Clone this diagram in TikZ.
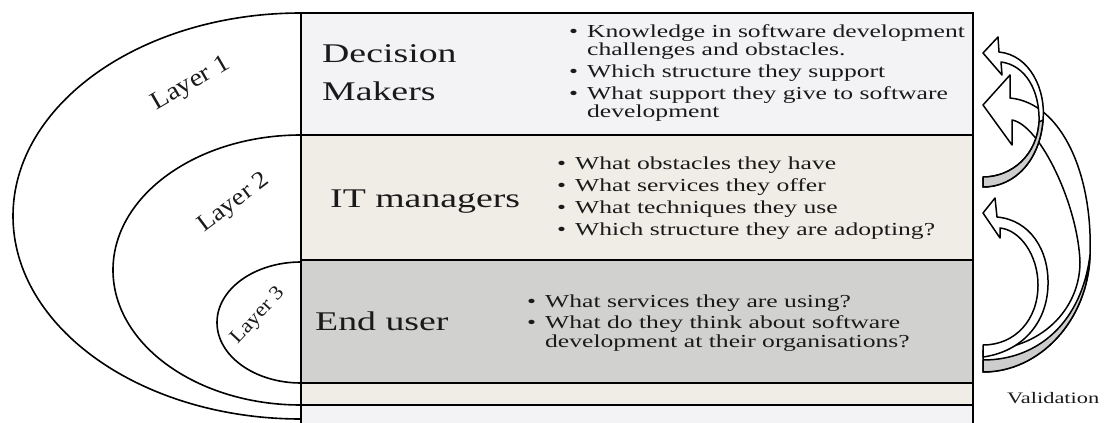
\documentclass[tikz,border=0pt]{standalone}
\usepackage{fontspec}
\setmainfont{Liberation Serif}[FakeStretch=1.4]
\newfontfamily\layfont{Liberation Serif}[FakeStretch=1.12]
\definecolor{rowA}{HTML}{F3F3F5}
\definecolor{rowB}{HTML}{EFEDE5}
\definecolor{rowC}{HTML}{D1D1CF}
\definecolor{txt}{HTML}{1A1A1A}
\definecolor{shade}{HTML}{CDCDCD}

\begin{document}
\begin{tikzpicture}[x=1pt, y=-1pt,
	ring/.style={line width=1.6pt},
	edge/.style={line width=1.8pt},
	face/.style={fill=white, draw=black, line width=1.5pt, line join=round},
	under/.style={fill=shade, draw=black, line width=1.5pt, line join=round},
	who/.style={anchor=base west, inner sep=0pt, text=txt, font=\fontsize{27}{30}\selectfont},
	pts/.style={anchor=base west, inner sep=0pt, text=txt, font=\fontsize{18.3}{18}\selectfont},
	lay/.style={inner sep=0pt, text=txt}]
	\useasboundingbox (0,0) rectangle (1106,423);
	
	% rows of the table
	\fill[rowA] (301,13) rectangle (973,135);
	\fill[rowB] (301,135) rectangle (973,260);
	\fill[rowC] (301,260) rectangle (973,383);
	\fill[rowB] (301,383) rectangle (973,405);
	\fill[rowA] (301,405) rectangle (973,430);
	\draw[edge] (301,13) rectangle (973,430);
	\foreach \y in {135,260,383,405}
		\draw[edge] (301,\y) -- (973,\y);
	\draw[line width=2.6pt] (301,13) -- (301,430);
	
	% layers
	\draw[ring] (301,13) arc[start angle=-90, end angle=-270, x radius=288, y radius=203];
	\draw[ring] (301,135) arc[start angle=-90, end angle=-270, x radius=188, y radius=135];
	\draw[ring] (301,262) arc[start angle=-90, end angle=-270, x radius=84, y radius=60.5];
	\node[lay, rotate=30, font=\layfont\fontsize{25}{25}\selectfont] (l1) at (191,84) {Layer 1};
	\node[lay, rotate=37, font=\layfont\fontsize{24}{24}\selectfont] (l2) at (234,203) {Layer 2};
	\node[lay, rotate=47, font=\layfont\fontsize{20}{20}\selectfont] (l3) at (258,316) {Layer 3};
	
	% who
	\node[who] (dec) at (322,62) {Decision};
	\node[who] (mak) at (322,100) {Makers};
	\node[who] (itm) at (330,207) {IT managers};
	\node[who] (end) at (315,330) {End user};
	
	% what they were asked
	\node[pts] (q1) at (569,37) {\begin{tabular}[t]{@{}l@{\hspace{9pt}}l@{}}
		\textbullet & Knowledge in software development\\
		& challenges and obstacles.\\[4pt]
		\textbullet & Which structure they support\\[4pt]
		\textbullet & What support they give to software\\
		& development
	\end{tabular}};
	\node[pts] (q2) at (557,169) {\begin{tabular}[t]{@{}l@{\hspace{9pt}}l@{}}
		\textbullet & What obstacles they have\\[4pt]
		\textbullet & What services they offer\\[4pt]
		\textbullet & What techniques they use\\[4pt]
		\textbullet & Which structure they are adopting?
	\end{tabular}};
	\node[pts] (q3) at (527,307) {\begin{tabular}[t]{@{}l@{\hspace{9pt}}l@{}}
		\textbullet & What services they are using?\\[3pt]
		\textbullet & What do they think about software\\[1pt]
		& development at their organisations?
	\end{tabular}};
	
	% validation arrows
	\draw[face] (983,350) .. controls (1040,350) and (1080,310) .. (1080,262)
		.. controls (1078,205) and (1040,125) .. (1012,120)
		-- (1012,145) -- (983,105) -- (1010,75) -- (1010,98)
		.. controls (1062,103) and (1093,175) .. (1090,255)
		.. controls (1088,320) and (1040,372) .. (983,372) -- cycle;
	\draw[under] (1090,255) .. controls (1088,320) and (1040,372) .. (983,372)
		-- (983,360) .. controls (1040,360) and (1082,320) .. (1090,255) -- cycle;
	\draw[face] (983,177) .. controls (1012,177) and (1037,155) .. (1039,122)
		.. controls (1040,90) and (1025,65) .. (1001,62)
		-- (1002,75) -- (983,53) -- (998,37) -- (999,52)
		.. controls (1030,55) and (1046,90) .. (1043,120)
		.. controls (1040,160) and (1015,187) .. (983,187) -- cycle;
	\draw[under] (1043,120) .. controls (1040,160) and (1015,187) .. (983,187)
		-- (983,177) .. controls (1012,177) and (1037,155) .. (1039,122) -- cycle;
	\draw[face] (983,345) .. controls (1015,345) and (1038,320) .. (1038,285)
		.. controls (1038,255) and (1020,230) .. (1000,228)
		-- (1000,238) -- (983,213) -- (995,198) -- (997,217)
		.. controls (1030,220) and (1049,250) .. (1048,285)
		.. controls (1047,325) and (1020,352) .. (983,357) -- cycle;
	\node[pts, font=\fontsize{16}{16}\selectfont] (val) at (1007,403) {Validation};
\end{tikzpicture}
\end{document}
